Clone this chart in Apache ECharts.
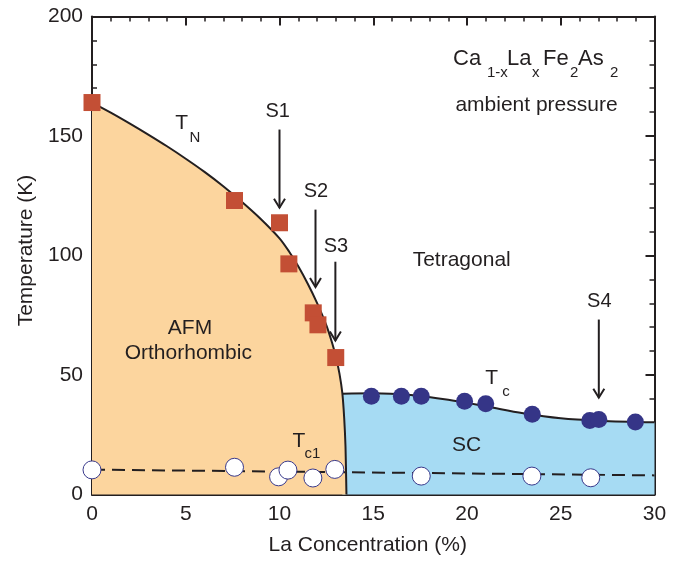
<!DOCTYPE html>
<html><head><meta charset="utf-8">
<script src="https://cdn.jsdelivr.net/npm/echarts/dist/echarts.min.js"></script>
<style>html,body{margin:0;padding:0;background:#fff}#c{width:685px;height:562px}</style>
</head><body><div id="c"></div>
<script>
// ---- data ----
const xTickInterval = 5;
const yTickInterval = 50;
// Néel transition T_N (red squares)
const tnPoints = [[0,164],[7.6,123],[10,113.7],[10.5,96.5],[11.8,76],[12.05,71],[13,57.3]];
// Superconducting Tc (filled circles)
const tcPoints = [[14.9,41.1],[16.5,41.1],[17.56,41.1],[19.87,39],[21,38],[23.48,33.6],[26.55,31],[27.03,31.4],[28.98,30.3]];
// Tc1 (open circles)
const tc1Points = [[0,10.3],[7.6,11.4],[9.95,7.4],[10.45,10.2],[11.78,6.9],[12.95,10.5],[17.56,7.7],[23.46,7.7],[26.6,7]];
// T_N phase boundary (curve)
const tnCurve = [[0,164],[1,159.8],[2,155.3],[3,150.6],[4,145.7],[5,140.5],[6,135],[7,129],[8,122.4],[9,115.3],[10,107.2],[10.5,101.8],[11,95.5],[11.5,88.3],[12,80.2],[12.5,70.8],[12.8,63.6],[13,57.8],[13.2,50.5],[13.35,42.5],[13.45,32],[13.52,20],[13.57,0]];
// Tc boundary (curve)
const tcCurve = [[13.35,42.2],[15,42.4],[17,41.6],[19,39.6],[21,36.9],[23,34],[25,31.9],[27,30.9],[30,30.2]];
// Tc1 dashed line
const tc1Line = [[0,10.4],[30,8]];
// Arrows: [x, yStart, yEnd]
const arrows = [[10,152.7,120],[11.92,119.2,86.8],[12.98,97.4,64.4],[27.03,73.2,40.5]];

const TXT = '#231f20';
const FONT = '"Liberation Sans", Arial, Helvetica, sans-serif';
const ORANGE = '#fcd59e';
const BLUE = '#a6dbf3';

function axisCommon(showLabel){
  return {
    axisLine:{show:true,onZero:false,lineStyle:{color:TXT,width:2}},
    axisTick:{show:true,inside:true,length:9,lineStyle:{color:TXT,width:2}},
    minorTick:{show:true,splitNumber:5,length:5,lineStyle:{color:TXT,width:1.5}},
    splitLine:{show:false},
    axisLabel:{show:showLabel,fontSize:21,fontFamily:FONT,color:TXT,margin:9}
  };
}

const chart = echarts.init(document.getElementById('c'), null, {renderer:'canvas'});

function txt(text, x, y, size, align){
  return {type:'text', x:x, y:y, z:100, style:{text:text, fontSize:size, fontFamily:FONT, fill:TXT, align:align||'center', verticalAlign:'middle'}};
}

chart.setOption({
  animation:false,
  backgroundColor:'#fff',
  grid:{left:92,right:30.5,top:16.5,bottom:67.5},
  xAxis:[
    Object.assign(axisCommon(true),{type:'value',min:0,max:30,interval:xTickInterval,position:'bottom',
      name:'La Concentration (%)',nameLocation:'middle',nameGap:40,
      nameTextStyle:{fontSize:21,fontFamily:FONT,color:TXT,padding:[0,11,0,0]}}),
    Object.assign(axisCommon(false),{type:'value',min:0,max:30,interval:xTickInterval,position:'top'})
  ],
  yAxis:[
    Object.assign(axisCommon(true),{type:'value',min:0,max:200,interval:yTickInterval,position:'left',
      name:'Temperature (K)',nameLocation:'middle',nameGap:55,
      nameTextStyle:{fontSize:21,fontFamily:FONT,color:TXT,padding:[0,0,0,10]}}),
    Object.assign(axisCommon(false),{type:'value',min:0,max:200,interval:yTickInterval,position:'right'})
  ],
  series:[
    {type:'line',data:tcCurve,smooth:0.35,showSymbol:false,z:1,
      lineStyle:{color:TXT,width:2},areaStyle:{color:BLUE,opacity:1}},
    {type:'line',data:tnCurve,smooth:0.3,showSymbol:false,z:2,
      lineStyle:{color:TXT,width:2},areaStyle:{color:ORANGE,opacity:1}},
    {type:'line',data:tc1Line,showSymbol:false,z:3,lineStyle:{color:TXT,width:2,type:[13,7]}},
    {type:'scatter',data:tnPoints,symbol:'rect',symbolSize:17,z:5,itemStyle:{color:'#c34f35',opacity:1}},
    {type:'scatter',data:tcPoints,symbol:'circle',symbolSize:17,z:5,itemStyle:{color:'#353587',opacity:1}},
    {type:'scatter',data:tc1Points,symbol:'circle',symbolSize:18,z:5,itemStyle:{color:'#fff',borderColor:'#3a3a8c',borderWidth:1,opacity:1}},
    {type:'custom',data:arrows,z:6,encode:{x:0,y:[1,2]},
      renderItem:function(params,api){
        const p0=api.coord([api.value(0),api.value(1)]);
        const p1=api.coord([api.value(0),api.value(2)]);
        return {type:'group',children:[
          {type:'line',shape:{x1:p0[0],y1:p0[1],x2:p1[0],y2:p1[1]},style:{stroke:TXT,lineWidth:2}},
          {type:'polyline',shape:{points:[[p1[0]-5.5,p1[1]-9],[p1[0],p1[1]],[p1[0]+5.5,p1[1]-9]]},style:{stroke:TXT,lineWidth:2,fill:null}}
        ]};
      }}
  ],
  graphic:[
    txt('T',181.7,123.3,21), txt('N',195,138.3,15),
    txt('S1',277.7,111.7,20), txt('S2',316,191.7,20), txt('S3',336,246.7,20), txt('S4',599.3,301.7,20),
    txt('Tetragonal',461.7,260,21),
    txt('AFM',190,328.3,21), txt('Orthorhombic',188.3,353.3,21),
    txt('SC',466.7,445,21),
    txt('T',491.7,378.3,21), txt('c',506,392.3,15),
    txt('T',299,441.7,21), txt('c1',312.3,454.3,15),
    txt('Ca',453,59.3,22,'left'), txt('1-x',487,73.3,15,'left'),
    txt('La',507,59.3,22,'left'), txt('x',532,73.3,15,'left'),
    txt('Fe',543,59.3,22,'left'), txt('2',570,73.3,15,'left'),
    txt('As',578,59.3,22,'left'), txt('2',610,73.3,15,'left'),
    txt('ambient pressure',536.5,105,21)
  ]
});
</script>
</body></html>
